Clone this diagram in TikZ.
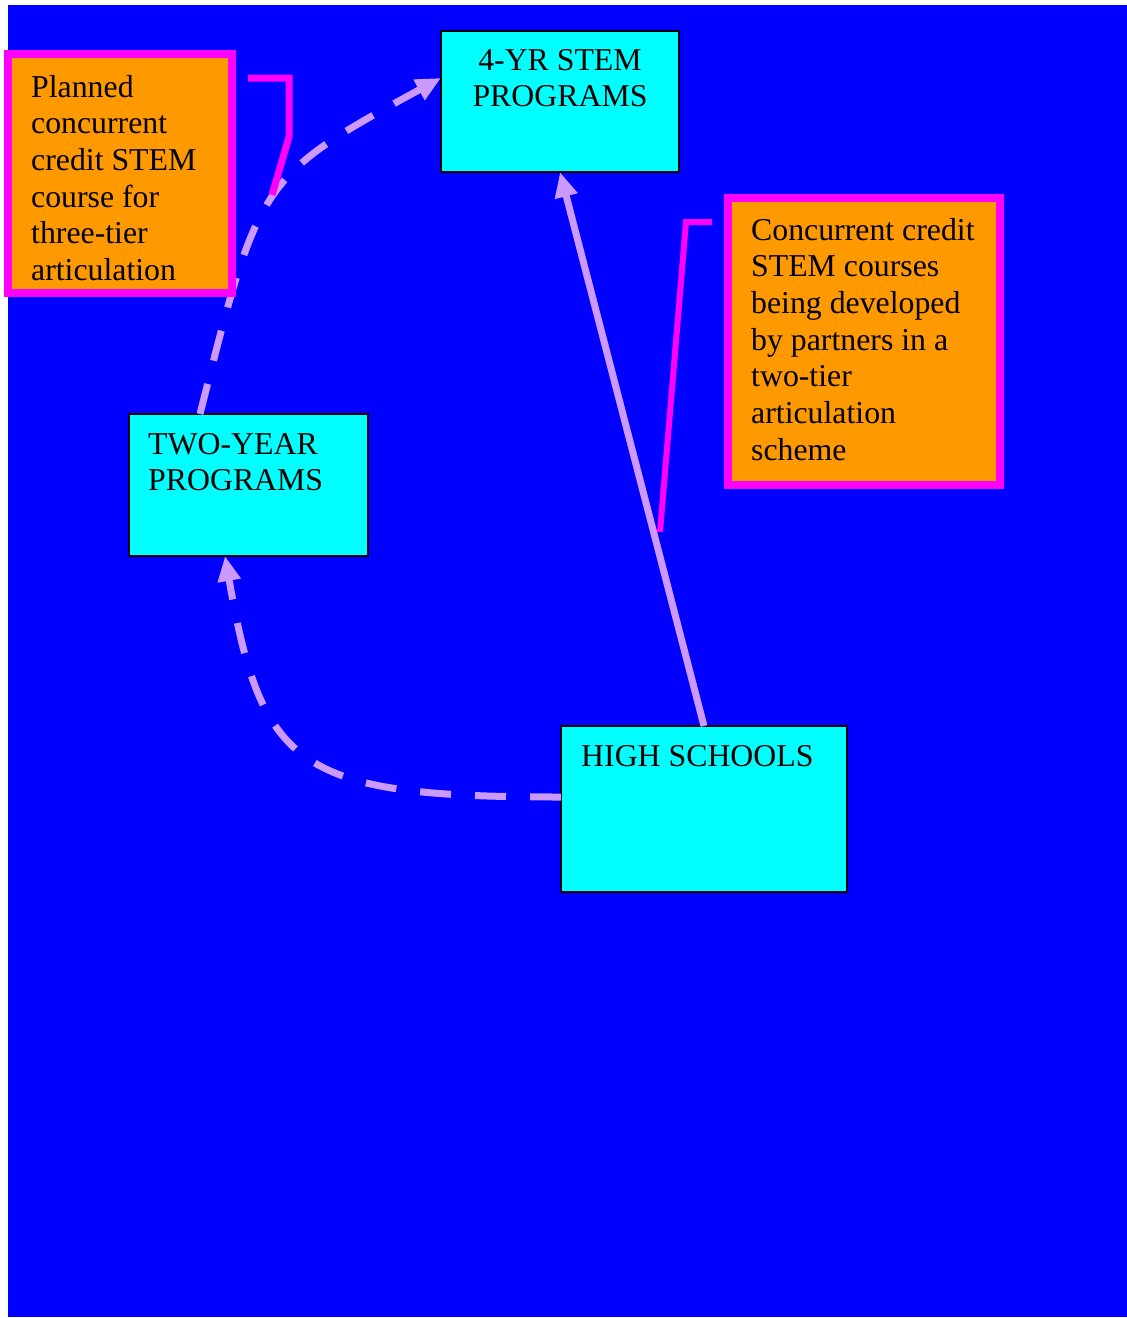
\documentclass[tikz,border=0pt]{standalone}
\usepackage{fontspec}
\setmainfont{Liberation Serif}
\usetikzlibrary{arrows.meta,calc}
\definecolor{bgblue}{HTML}{0000FF}
\definecolor{lav}{HTML}{CC99FF}
\definecolor{mag}{HTML}{FF00FF}
\definecolor{orng}{HTML}{FF9900}
\definecolor{cyn}{HTML}{00FFFF}
\begin{document}
\begin{tikzpicture}[x=1pt,y=-1pt,
  progbox/.style={draw=black, line width=2.5pt, fill=cyn, inner sep=0pt, outer sep=0pt},
  notebox/.style={draw=mag, line width=8pt, fill=orng, inner sep=0pt, outer sep=0pt},
  txt/.style={font=\fontsize{31.8}{36.7}\selectfont, align=left, anchor=base west, inner sep=0pt, text=black},
  dashline/.style={draw=lav, line width=7pt, dash pattern=on 31pt off 24pt, -{Triangle[length=25pt,width=22pt]}},
  solidline/.style={draw=lav, line width=7pt, -{Triangle[length=25pt,width=22pt]}},
  callout/.style={draw=mag, line width=7pt}
]
\useasboundingbox (0,0) rectangle (1127,1318);
\fill[white] (0,0) rectangle (1127,1318);
\fill[bgblue] (8,5) rectangle (1127,1317);

% program boxes
\node[progbox, minimum width=238pt, minimum height=141pt] (fouryr) at (560,101.5) {};
\node[progbox, minimum width=239pt, minimum height=142pt] (two) at (248.5,485) {};
\node[progbox, minimum width=286pt, minimum height=166pt] (hs) at (704,809) {};

% connectors
\draw[dashline] ([xshift=-48.5pt]two.north) .. controls (259,180) and (259,177) .. ([yshift=23.5pt]fouryr.west);
\draw[dashline] ([yshift=12pt]hs.west) .. controls (300,797) and (262,770) .. ([xshift=-23.5pt]two.south);
\draw[solidline] (hs.north) -- (fouryr.south);

% note boxes (drawn over the connectors)
\node[notebox, minimum width=224pt, minimum height=239pt] (noteL) at (120,173.5) {};
\node[notebox, minimum width=272pt, minimum height=287pt] (noteR) at (864,341.5) {};

% texts (anchor = baseline of the last line)
\node[txt, align=center, anchor=base] (tfour) at (560,106.7) {4-YR STEM\\PROGRAMS};
\node[txt] (ttwo) at (148,490.7) {TWO-YEAR\\PROGRAMS};
\node[txt] (ths) at (581,766) {HIGH SCHOOLS};
\node[txt] (tnoteL) at (31,280.5) {Planned\\concurrent\\credit STEM\\course for\\three-tier\\articulation};
\node[txt] (tnoteR) at (751,460.2) {Concurrent credit\\STEM courses\\being developed\\by partners in a\\two-tier\\articulation\\scheme};

% callouts
\coordinate (cLa) at (248,78);
\coordinate (cLb) at (272,195);
\draw[callout] (cLa) -- (289,78) -- (289,137) -- (cLb);
\coordinate (cRa) at (712,222);
\coordinate (cRb) at (660,532);
\draw[callout, line width=6pt] (cRa) -- (686,222) -- (cRb);
\end{tikzpicture}
\end{document}
